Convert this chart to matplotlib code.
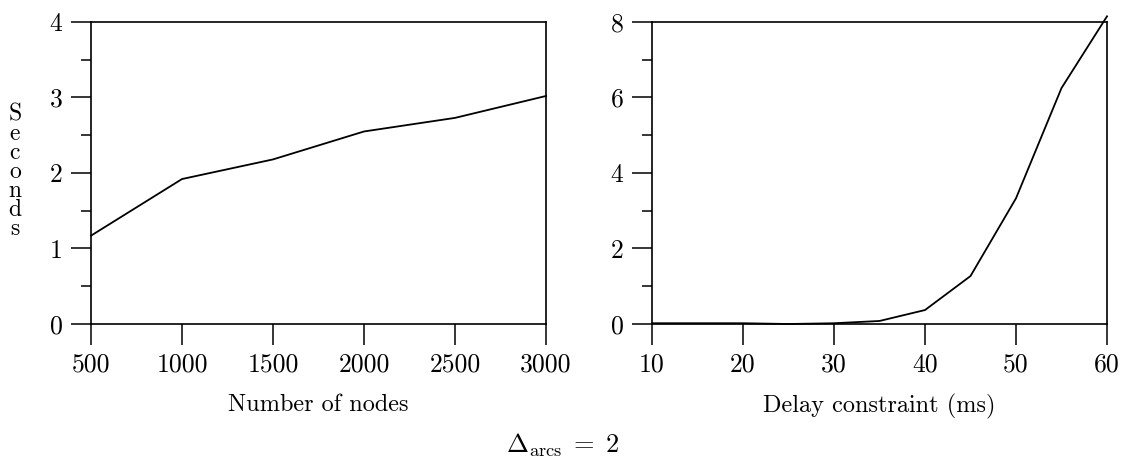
import numpy as np
import matplotlib
matplotlib.use("Agg")
import matplotlib.pyplot as plt
from matplotlib.ticker import MultipleLocator

plt.rcParams['font.family'] = 'cmr10'
plt.rcParams['mathtext.fontset'] = 'cm'
plt.rcParams['axes.formatter.use_mathtext'] = True

# datos
nodos = [500, 1000, 1500, 2000, 2500, 3000]
seg_nodos = [1.17, 1.92, 2.18, 2.55, 2.73, 3.02]

retardo = [10, 15, 20, 25, 30, 35, 40, 45, 50, 55, 60]
seg_retardo = [0.02, 0.02, 0.02, 0.0, 0.02, 0.08, 0.37, 1.27, 3.33, 6.25, 8.15]

xt_izq = [500, 1000, 1500, 2000, 2500, 3000]
yt_izq = [0, 1, 2, 3, 4]
xt_der = [10, 20, 30, 40, 50, 60]
yt_der = [0, 2, 4, 6, 8]

fig = plt.figure(figsize=(11.26, 4.61), dpi=100)
ax1 = fig.add_axes([91/1126, 1-324/461, (546-91)/1126, (324-22)/461])
ax2 = fig.add_axes([652/1126, 1-324/461, (1107-652)/1126, (324-22)/461])

def estilo(ax, xt, yt, ymenor):
    for s in ax.spines.values():
        s.set_linewidth(1.2)
    ax.set_xticks(xt)
    ax.set_xticklabels([str(v) for v in xt])
    ax.set_yticks(yt)
    ax.set_yticklabels([str(v) for v in yt])
    ax.yaxis.set_minor_locator(MultipleLocator(ymenor))
    ax.tick_params(axis='y', which='major', direction='out', length=14.5, width=1.1,
                   labelsize=18.5, pad=6)
    ax.tick_params(axis='y', which='minor', direction='out', length=7, width=1.1)
    ax.tick_params(axis='x', which='major', direction='out', length=15, width=1.1,
                   labelsize=18.5, pad=5.5)
    ax.set_xlim(xt[0], xt[-1])
    ax.set_ylim(yt[0], yt[-1])

ax1.plot(nodos, seg_nodos, color='black', lw=1.3, clip_on=False)
estilo(ax1, xt_izq, yt_izq, 0.5)
ax1.set_xlabel('Number of nodes', fontsize=17.5, labelpad=13)

ax2.plot(retardo, seg_retardo, color='black', lw=1.3, clip_on=False)
estilo(ax2, xt_der, yt_der, 1)
ax2.set_xlabel('Delay constraint (ms)', fontsize=17.5, labelpad=13)

fig.text(15/1126, 1-172/461, "\n".join("Seconds"), fontsize=17, ha='center', va='center',
         linespacing=0.82)
fig.text(563/1126, 1-445/461, r'$\Delta_{\mathrm{arcs}}\;=\;2$', fontsize=19,
         ha='center', va='center')

fig.savefig('out.png', dpi=100)
